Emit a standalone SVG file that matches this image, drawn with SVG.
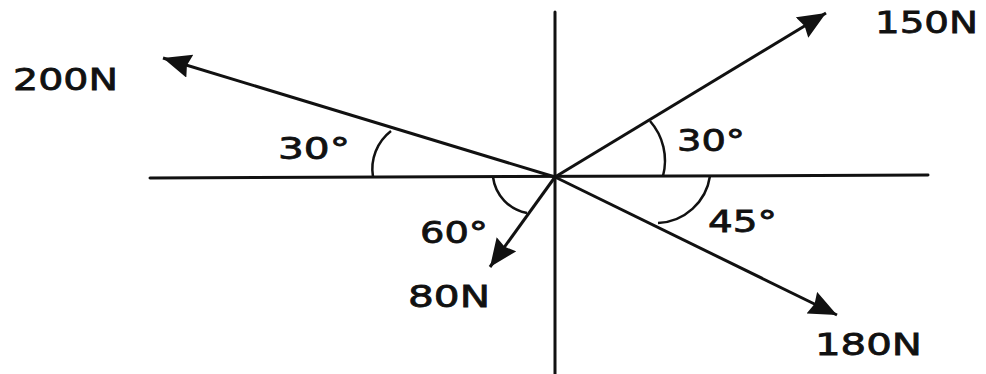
<svg xmlns="http://www.w3.org/2000/svg" width="986" height="374" viewBox="0 0 986 374">
  <style>
    .ax { stroke: #111; stroke-width: 3; fill: none; stroke-linecap: round; }
    .vec { stroke: #111; stroke-width: 3; fill: none; marker-end: url(#ah); }
    .arc { stroke: #111; stroke-width: 2.5; fill: none; }
    .lbl { font-family: "DejaVu Sans", Verdana, sans-serif; font-size: 31px; fill: #111; stroke: #111; stroke-width: 0.8; }
  </style>
  <defs>
    <marker id="ah" markerUnits="userSpaceOnUse" markerWidth="34" markerHeight="30" refX="28" refY="12" orient="auto">
      <path d="M0,0 L28,12 L0,24 L3,12 Z" fill="#111"/>
    </marker>
  </defs>
  <rect width="986" height="374" fill="#fff"/>
  <g id="axes">
    <line class="ax" x1="150" y1="178" x2="928" y2="175"/>
    <line class="ax" x1="555" y1="12" x2="555" y2="374"/>
  </g>
  <g id="connectors">
    <line class="vec" x1="555" y1="177" x2="163" y2="58"/>
    <line class="vec" x1="555" y1="177" x2="826" y2="13"/>
    <line class="vec" x1="555" y1="177" x2="490" y2="267"/>
    <line class="vec" x1="555" y1="177" x2="837" y2="315"/>
  </g>
  <g id="arcs">
    <path class="arc" d="M373,177 A48 48 0 0 1 391,131"/>
    <path class="arc" d="M663,176 A60 60 0 0 0 650,121"/>
    <path class="arc" d="M493,177 A42 42 0 0 0 527,213"/>
    <path class="arc" d="M710,176 A55 55 0 0 1 658,223"/>
  </g>
  <g id="f200"><text class="lbl" x="13" y="90" textLength="105" lengthAdjust="spacingAndGlyphs">200N</text></g>
  <g id="f150"><text class="lbl" x="875" y="33" textLength="103" lengthAdjust="spacingAndGlyphs">150N</text></g>
  <g id="f80"><text class="lbl" x="408" y="307" textLength="82" lengthAdjust="spacingAndGlyphs">80N</text></g>
  <g id="f180"><text class="lbl" x="815" y="355" textLength="107" lengthAdjust="spacingAndGlyphs">180N</text></g>
  <g id="a30l"><text class="lbl" x="278" y="159" textLength="72" lengthAdjust="spacingAndGlyphs">30°</text></g>
  <g id="a30r"><text class="lbl" x="677" y="151" textLength="68" lengthAdjust="spacingAndGlyphs">30°</text></g>
  <g id="a60"><text class="lbl" x="420" y="243" textLength="68" lengthAdjust="spacingAndGlyphs">60°</text></g>
  <g id="a45"><text class="lbl" x="708" y="232" textLength="69" lengthAdjust="spacingAndGlyphs">45°</text></g>
</svg>
